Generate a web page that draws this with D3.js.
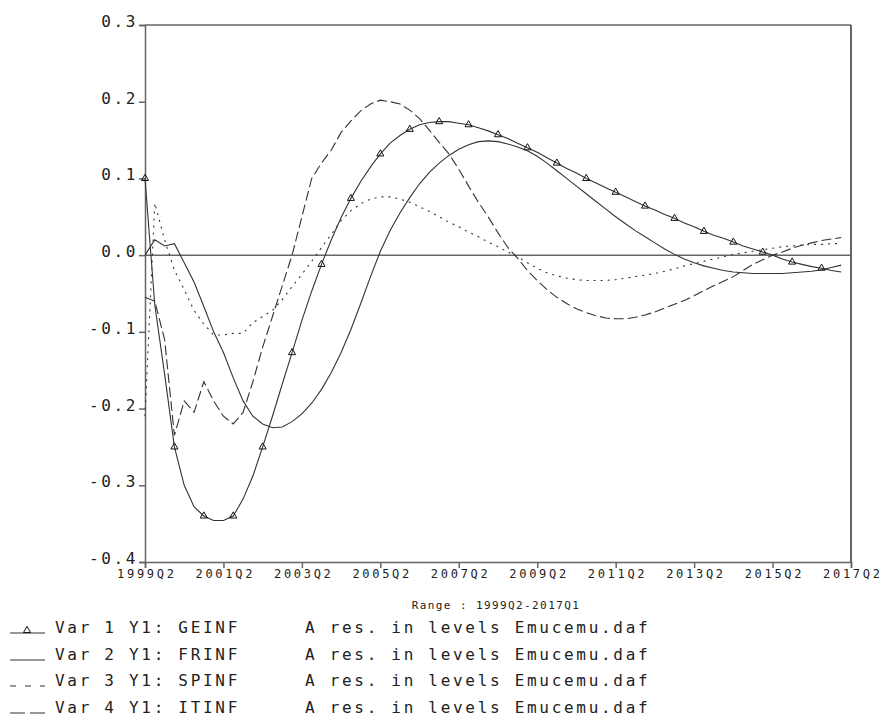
<!DOCTYPE html>
<html>
<head>
<meta charset="utf-8">
<script src="https://cdn.jsdelivr.net/npm/d3@7"></script>
<style>
  body { margin: 0; background: #fff; }
  svg { display: block; }
  text { font-family: "DejaVu Sans Mono", "Liberation Mono", monospace; fill: #222; }
</style>
</head>
<body>
<div id="chart"></div>
<script>
// quarters 1999Q2 .. 2017Q1 (index 0..71)
var startYear = 1999, startQ = 2;

var geinf = [0.1, -0.065, -0.155, -0.25, -0.3, -0.328, -0.34, -0.346, -0.346, -0.34,
  -0.318, -0.288, -0.25, -0.21, -0.168, -0.127, -0.085, -0.047, -0.012, 0.02,
  0.049, 0.074, 0.096, 0.115, 0.132, 0.146, 0.156, 0.164, 0.17, 0.173,
  0.174, 0.174, 0.172, 0.17, 0.166, 0.162, 0.157, 0.152, 0.146, 0.14,
  0.134, 0.127, 0.12, 0.113, 0.107, 0.1, 0.094, 0.088, 0.082, 0.076,
  0.07, 0.064, 0.059, 0.053, 0.048, 0.042, 0.037, 0.031, 0.026, 0.022,
  0.017, 0.012, 0.008, 0.004, 0.0, -0.005, -0.009, -0.012, -0.015, -0.017,
  -0.02, -0.022];

var frinf = [0.0, 0.02, 0.012, 0.015, -0.01, -0.035, -0.067, -0.1, -0.127, -0.16,
  -0.19, -0.21, -0.22, -0.225, -0.224, -0.217, -0.207, -0.193, -0.175, -0.153,
  -0.127, -0.097, -0.063, -0.028, 0.005, 0.032, 0.055, 0.075, 0.093, 0.108,
  0.12, 0.13, 0.138, 0.144, 0.148, 0.149, 0.148, 0.145, 0.141, 0.136,
  0.129, 0.12, 0.11, 0.1, 0.09, 0.08, 0.07, 0.06, 0.05, 0.041,
  0.032, 0.024, 0.016, 0.008, 0.001, -0.005, -0.01, -0.014, -0.017, -0.02,
  -0.022, -0.023, -0.024, -0.024, -0.024, -0.024, -0.023, -0.022, -0.021, -0.019,
  -0.016, -0.013];

var spinf = [-0.21, 0.068, 0.02, -0.02, -0.045, -0.072, -0.09, -0.104, -0.104, -0.102,
  -0.102, -0.088, -0.08, -0.072, -0.058, -0.041, -0.025, -0.008, 0.01, 0.027,
  0.045, 0.058, 0.067, 0.073, 0.076, 0.076, 0.073, 0.069, 0.063, 0.057,
  0.05, 0.043, 0.037, 0.03, 0.024, 0.017, 0.011, 0.004, -0.002, -0.01,
  -0.017, -0.023, -0.027, -0.03, -0.032, -0.033, -0.033, -0.033, -0.032, -0.03,
  -0.028, -0.026, -0.024, -0.021, -0.018, -0.014, -0.011, -0.008, -0.005, -0.002,
  0.001, 0.003, 0.005, 0.007, 0.009, 0.011, 0.012, 0.013, 0.014, 0.014,
  0.015, 0.015];

var itinf = [-0.055, -0.06, -0.11, -0.235, -0.19, -0.205, -0.165, -0.19, -0.21, -0.22,
  -0.205, -0.165, -0.12, -0.08, -0.04, 0.0, 0.05, 0.1, 0.12, 0.137,
  0.16, 0.175, 0.188, 0.197, 0.202, 0.2, 0.197, 0.189, 0.178, 0.163,
  0.147, 0.132, 0.112, 0.09, 0.069, 0.05, 0.029, 0.01, -0.004, -0.02,
  -0.033, -0.045, -0.055, -0.063, -0.07, -0.075, -0.079, -0.082, -0.083, -0.083,
  -0.081, -0.078, -0.074, -0.069, -0.064, -0.059, -0.053, -0.046, -0.04, -0.034,
  -0.028, -0.02, -0.012, -0.006, 0.0, 0.004, 0.009, 0.013, 0.016, 0.019,
  0.021, 0.023];

var xTickIdx = [0, 8, 16, 24, 32, 40, 48, 56, 64, 72];
var yTicks = [-0.4, -0.3, -0.2, -0.1, 0.0, 0.1, 0.2, 0.3];

var legendNames = ['Var 1 Y1: GEINF', 'Var 2 Y1: FRINF', 'Var 3 Y1: SPINF', 'Var 4 Y1: ITINF'];
var legendDesc = 'A res. in levels Emucemu.daf';
var rangeLabel = 'Range : 1999Q2-2017Q1';

var W = 882, H = 726;

var series = [
  { values: geinf, dash: null, marks: true, legDash: null },
  { values: frinf, dash: null, marks: false, legDash: null },
  { values: spinf, dash: '2,5', marks: false, legDash: '6,9' },
  { values: itinf, dash: '10,4', marks: false, legDash: '15,5' }
];

function qLabel(i) {
  var n = (startQ - 1) + i;
  return (startYear + Math.floor(n / 4)) + 'Q' + (n % 4 + 1);
}

var x = d3.scaleLinear().domain([0, 72]).range([145, 851]);
var y = d3.scaleLinear().domain([-0.4, 0.3]).range([562, 25]);
var fmt = d3.formatLocale({ decimal: '.', thousands: ',', grouping: [3], currency: ['', ''], minus: '-' }).format('.1f');

var svg = d3.select('#chart').append('svg').attr('width', W).attr('height', H);

// frame
var axisCol = '#666';
svg.append('line').attr('x1', x(0)).attr('x2', x(72)).attr('y1', y(0.3)).attr('y2', y(0.3))
  .attr('stroke', axisCol).attr('stroke-width', 1.5);
svg.append('line').attr('x1', x(72)).attr('x2', x(72)).attr('y1', y(0.3)).attr('y2', y(-0.4))
  .attr('stroke', '#333').attr('stroke-width', 1.5);
svg.append('line').attr('x1', x(0)).attr('x2', x(72)).attr('y1', y(0)).attr('y2', y(0))
  .attr('stroke', axisCol).attr('stroke-width', 1.5);

// y axis
var gy = svg.append('g').attr('transform', 'translate(' + x(0) + ',0)')
  .call(d3.axisLeft(y).tickValues(yTicks).tickSize(6).tickFormat(fmt));
gy.select('.domain').attr('stroke', axisCol).attr('stroke-width', 1.5);
gy.selectAll('.tick line').attr('stroke', axisCol).attr('stroke-width', 1.5);
gy.selectAll('.tick text')
  .attr('x', -7).attr('dy', null).attr('y', 1.5)
  .style('font-size', '16px').style('letter-spacing', '2.6px')
  .attr('text-anchor', 'end').attr('fill', '#333');

// x axis
var gx = svg.append('g').attr('transform', 'translate(0,' + y(-0.4) + ')')
  .call(d3.axisBottom(x).tickValues(xTickIdx).tickSize(6).tickFormat(qLabel));
gx.select('.domain').attr('stroke', axisCol).attr('stroke-width', 1.5);
gx.selectAll('.tick line').attr('stroke', axisCol).attr('stroke-width', 1.5);
gx.selectAll('.tick text')
  .attr('y', 15.5).attr('dy', null)
  .style('font-size', '12px').style('letter-spacing', '2.7px')
  .attr('dx', '1.35px').attr('fill', '#333');
gx.attr('font-family', null).attr('font-size', null);
gy.attr('font-family', null).attr('font-size', null);

svg.append('text').attr('x', 496).attr('y', 609).attr('text-anchor', 'middle')
  .style('font-size', '11px').style('letter-spacing', '1.4px').text(rangeLabel);

// series
var line = d3.line()
  .x(function (d, i) { return x(i); })
  .y(function (d) { return y(d); });

var tri = d3.symbol().type(d3.symbolTriangle).size(22);

series.forEach(function (s) {
  svg.append('path').datum(s.values)
    .attr('d', line)
    .attr('fill', 'none')
    .attr('stroke', '#333')
    .attr('stroke-width', 1.1)
    .attr('stroke-dasharray', s.dash);
  if (s.marks) {
    svg.selectAll(null).data(s.values.filter(function (d, i) { return i % 3 === 0; }))
      .enter().append('path')
      .attr('d', tri)
      .attr('transform', function (d, i) { return 'translate(' + x(i * 3) + ',' + y(d) + ')'; })
      .attr('fill', 'none').attr('stroke', '#111').attr('stroke-width', 1);
  }
});

// legend
var rowY = [633, 660, 686, 713];
series.forEach(function (s, i) {
  var ly = rowY[i];
  svg.append('line').attr('x1', 10).attr('x2', 45).attr('y1', ly).attr('y2', ly)
    .attr('stroke', '#333').attr('stroke-width', 1.2)
    .attr('stroke-dasharray', s.legDash);
  if (s.marks) {
    svg.append('path').attr('d', tri)
      .attr('transform', 'translate(27,' + (ly - 2.5) + ')')
      .attr('fill', 'none').attr('stroke', '#111').attr('stroke-width', 1);
  }
  svg.append('text').attr('x', 55).attr('y', ly)
    .style('font-size', '16px').style('letter-spacing', '2.7px').text(legendNames[i]);
  svg.append('text').attr('x', 305).attr('y', ly)
    .style('font-size', '16px').style('letter-spacing', '2.7px').text(legendDesc);
});
</script>
</body>
</html>
